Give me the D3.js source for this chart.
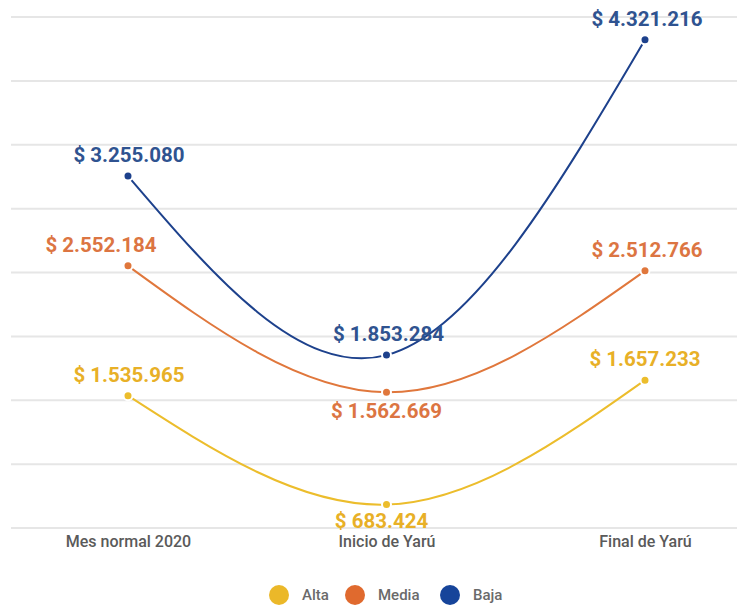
<!DOCTYPE html>
<html>
<head>
<meta charset="utf-8">
<script src="https://cdn.jsdelivr.net/npm/d3@7"></script>
<style>
  html, body { margin: 0; padding: 0; background: #ffffff; }
  svg { display: block; font-family: Roboto, "Noto Sans", sans-serif; }
</style>
</head>
<body>
<svg id="chart" width="737" height="608"></svg>
<script>
// Periods on the x axis
const periods = ["Mes normal 2020", "Inicio de Yarú", "Final de Yarú"];

// Income per stratum, pesos
const alta  = [1535965, 683424, 1657233];
const media = [2552184, 1562669, 2512766];
const baja  = [3255080, 1853284, 4321216];

// Horizontal guide values
const gridValues = [500000, 1000000, 1500000, 2000000, 2500000, 3000000, 3500000, 4000000, 4500000];

const seriesNames = ["Alta", "Media", "Baja"];
const seriesValues = [alta, media, baja];
const lineColors  = ["#ecbd2c", "#e0773c", "#1d418c"];
const labelColors = ["#e8b027", "#dc7542", "#2f5390"];
const legendColors = ["#ebb829", "#e06a2e", "#16449a"];

// label placement per series and point: vertical offset and horizontal nudge
const labelDy = [
  [-14, 23, -14],
  [-14, 26, -14],
  [-14, -14, -14]
];
const labelNudge = [
  [1, -5, 0],
  [-27, 0, 2],
  [1, 2, 2]
];

const svg = d3.select("#chart");

const x = d3.scalePoint().domain(periods).range([128, 645]);
const y = d3.scaleLinear().domain([500000, 4500000]).range([528, 17]);

// grid
svg.append("g")
  .selectAll("line")
  .data(gridValues)
  .join("line")
  .attr("x1", 11).attr("x2", 737)
  .attr("y1", d => y(d)).attr("y2", d => y(d))
  .attr("stroke", "#e6e6e6")
  .attr("stroke-width", 2);

// x axis labels
const xAxis = d3.axisBottom(x).tickSize(0).tickPadding(0);
const gx = svg.append("g").attr("transform", "translate(0,537)").call(xAxis);
gx.select(".domain").remove();
gx.selectAll("text")
  .attr("dy", "0.62em")
  .attr("font-size", 16)
  .attr("font-weight", 500)
  .attr("fill", "#5a5a5a")
  .attr("font-family", "Roboto, sans-serif");

const line = d3.line()
  .x((d, i) => x(periods[i]))
  .y(d => y(d))
  .curve(d3.curveNatural);

const fmt = v => "$ " + d3.format(",")(v).replace(/,/g, ".");

seriesValues.forEach((vals, s) => {
  const g = svg.append("g");
  g.append("path")
    .attr("d", line(vals))
    .attr("fill", "none")
    .attr("stroke", lineColors[s])
    .attr("stroke-width", 2);

  g.selectAll("circle")
    .data(vals)
    .join("circle")
    .attr("cx", (d, i) => x(periods[i]))
    .attr("cy", d => y(d))
    .attr("r", 4.5)
    .attr("fill", lineColors[s])
    .attr("stroke", "#ffffff")
    .attr("stroke-width", 2);

  g.selectAll("text")
    .data(vals)
    .join("text")
    .attr("x", (d, i) => x(periods[i]) + labelNudge[s][i])
    .attr("y", (d, i) => y(d) + labelDy[s][i])
    .attr("text-anchor", "middle")
    .attr("font-size", 20.5)
    .attr("font-weight", 700)
    .attr("fill", labelColors[s])
    .text(d => fmt(d));
});

// legend
const legendX = [279, 355, 450];
const legend = svg.append("g").attr("transform", "translate(0,595)");
seriesNames.forEach((name, s) => {
  legend.append("circle")
    .attr("cx", legendX[s]).attr("cy", 0).attr("r", 10)
    .attr("fill", legendColors[s]);
  legend.append("text")
    .attr("x", legendX[s] + 23).attr("y", 0)
    .attr("dy", "0.35em")
    .attr("font-size", 15)
    .attr("font-weight", 500)
    .attr("fill", "#6a6a6a")
    .text(name);
});
</script>
</body>
</html>
